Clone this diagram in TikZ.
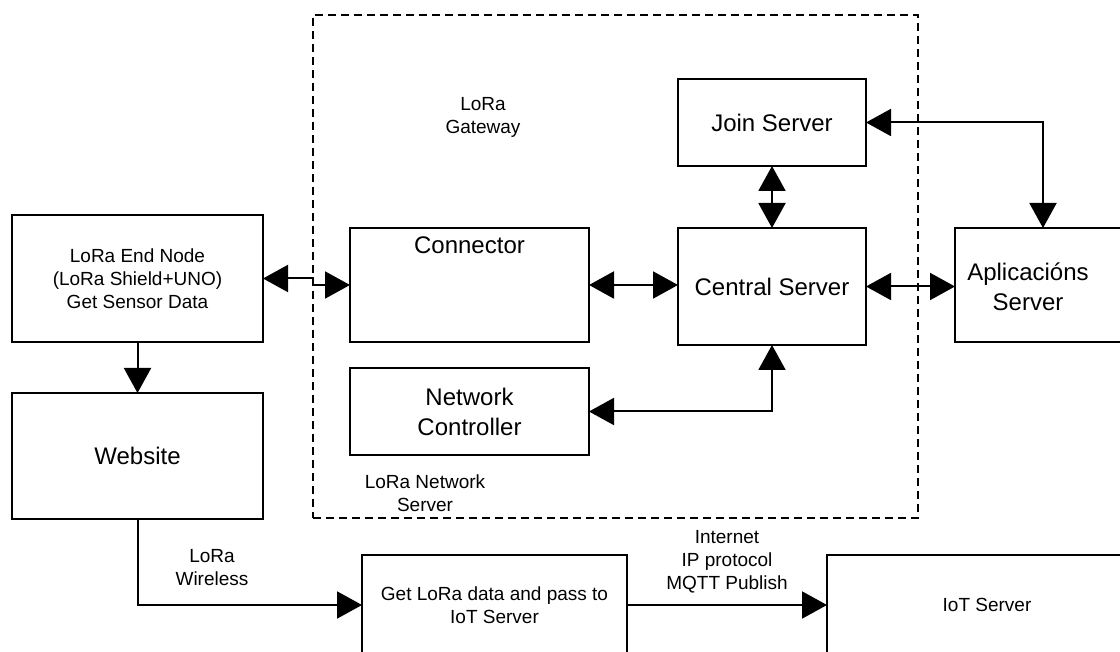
\documentclass[tikz,border=0pt]{standalone}
\usepackage{fontspec}
\setmainfont{Liberation Sans}
\usetikzlibrary{arrows.meta, positioning}

\tikzset{
	box/.style={draw, line width=1pt, rectangle, outer sep=0pt},
	big/.style={font=\fontsize{12}{15}\selectfont, align=center},
	small/.style={font=\fontsize{9.5}{11.5}\selectfont, align=center},
	link/.style={{Triangle[length=12.5pt,width=13.5pt]}-{Triangle[length=12.5pt,width=13.5pt]}, line width=1pt},
	flow/.style={-{Triangle[length=12.5pt,width=13.5pt]}, line width=1pt},
}

\begin{document}
\begin{tikzpicture}[x=0.5pt, y=-0.5pt]
	\useasboundingbox (0,0) rectangle (1120,652);
	\clip (0,0) rectangle (1120,652);

	% network server area
	\node [draw, line width=1pt, dash pattern=on 4pt off 2.5pt, outer sep=0pt, minimum width=302.5pt, minimum height=251.5pt] (lns) at (615.5,266.5) {};
	\node [small] (gwlabel) at (483,117) {LoRa\\Gateway};
	\node [small] (nslabel) at (425,493) {LoRa Network\\Server};

	\node [box, big, minimum width=94pt, minimum height=43.5pt] (join) at (772,122.5) {Join Server};
	\node [box, big, minimum width=94pt, minimum height=58.5pt] (central) at (772,286.5) {Central Server};
	\node [box, minimum width=119.5pt, minimum height=57pt] (conn) at (469.5,285) {};
	\node [big, below=1pt] (conntext) at (conn.north) {Connector};
	\node [box, big, minimum width=119.5pt, minimum height=43.5pt] (netctl) at (469.5,411.5) {Network\\Controller};

	% outside
	\node [box, small, minimum width=125.5pt, minimum height=63.5pt] (endnode) at (137.5,278.5) {LoRa End Node\\(LoRa Shield+UNO)\\Get Sensor Data};
	\node [box, big, minimum width=125.5pt, minimum height=63pt] (web) at (137.5,456) {Website};
	\node [box, minimum width=88pt, minimum height=57pt, anchor=north west] (app) at (955,228) {};
	\node [big] (apptext) at (1028,287) {Aplicacións\\Server};
	\node [box, small, minimum width=132.5pt, minimum height=50pt] (getlora) at (494.5,605) {Get LoRa data and pass to\\IoT Server};
	\node [box, small, minimum width=160pt, minimum height=50pt] (iot) at (987,605) {IoT Server};
	\node [small] (wirelabel) at (212,568) {LoRa\\Wireless};
	\node [small] (netlabel) at (727,562) {Internet\\IP protocol\\MQTT Publish};

	\draw [link] (join) -- (central);
	\draw [link] (conn.east) -- (conn.east -| central.west);
	\draw [link] (central.east) -- (central.east -| app.west);
	\draw [link] (join.east) -| (app.north);
	\draw [link] (central.south) |- (netctl.east);
	\draw [link] (endnode.east) -- (lns.west |- endnode.east) -- (lns.west |- conn.west) -- (conn.west);
	\draw [flow] (endnode) -- (web);
	\draw [flow] (web.south) |- (getlora.west);
	\draw [flow] (getlora) -- (iot);
\end{tikzpicture}
\end{document}
